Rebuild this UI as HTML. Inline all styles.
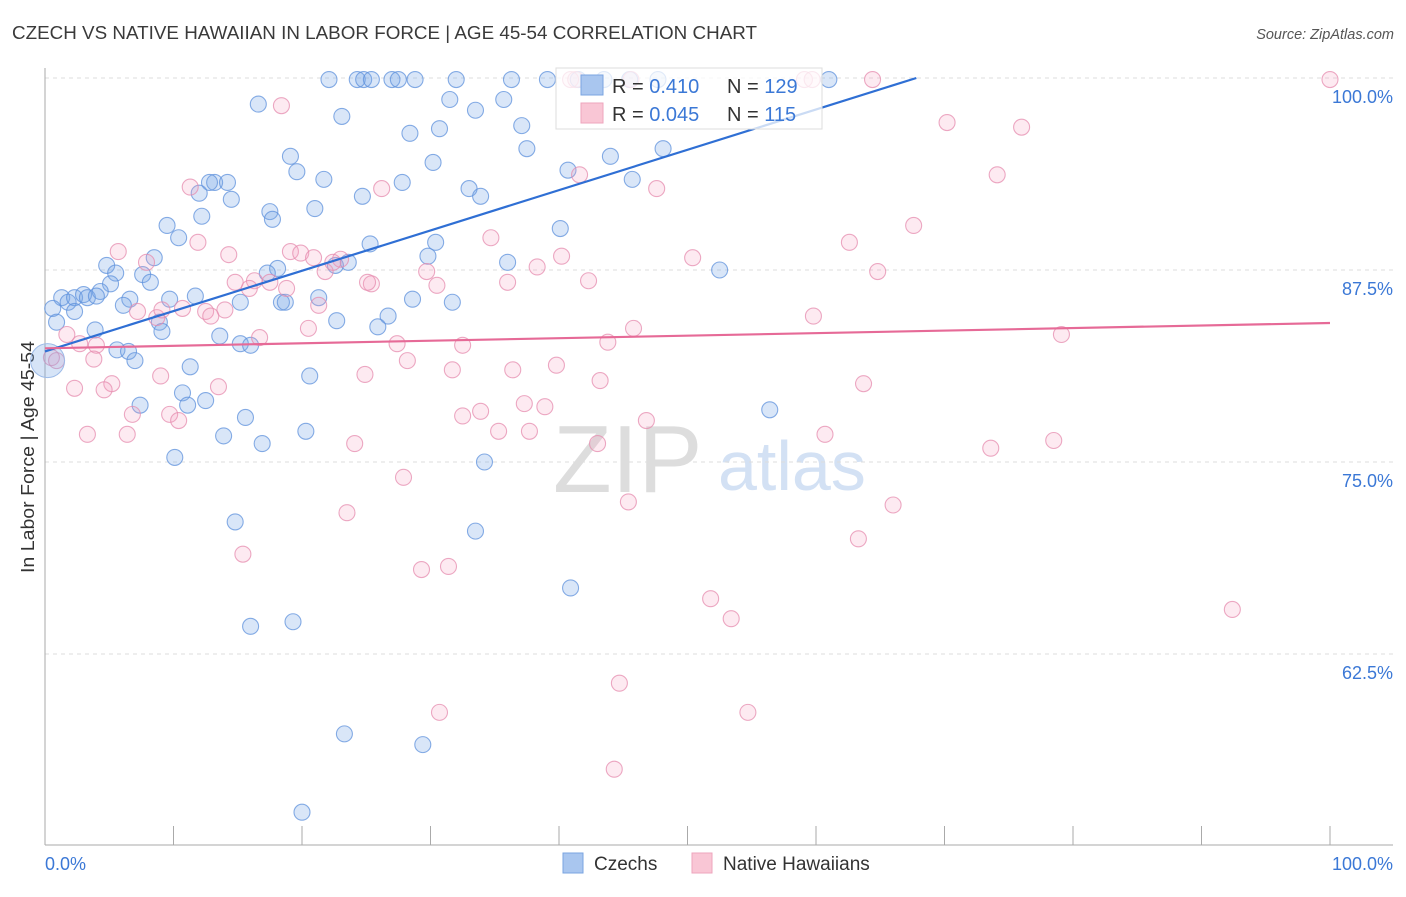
<!DOCTYPE html>
<html><head><meta charset="utf-8"><style>
body{margin:0;background:#fff;font-family:"Liberation Sans",sans-serif;}
svg text{font-family:"Liberation Sans",sans-serif;}
</style></head><body>
<svg id="chart" width="1406" height="892" xmlns="http://www.w3.org/2000/svg">
<text x="12" y="39" font-size="18" fill="#3a3a3a" textLength="745" lengthAdjust="spacingAndGlyphs">CZECH VS NATIVE HAWAIIAN IN LABOR FORCE | AGE 45-54 CORRELATION CHART</text>
<text x="1394" y="39" font-size="14.5" fill="#555" text-anchor="end" font-style="italic">Source: ZipAtlas.com</text>
<text transform="translate(34,457) rotate(-90)" font-size="18" fill="#333" text-anchor="middle" textLength="232" lengthAdjust="spacingAndGlyphs">In Labor Force | Age 45-54</text>
<g>
<text x="553" y="492" font-size="96" fill="#ddd" font-family="Liberation Serif,serif">ZIP</text>
<text x="718" y="490" font-size="70" fill="#d3e1f4">atlas</text>
</g>
<g id="grid"></g><g id="axes"></g><g id="pts"></g><g id="trends"></g>
<g>
<rect x="556" y="68" width="266" height="61" fill="rgba(255,255,255,0.75)" stroke="#ddd"/>
<rect x="581" y="75" width="22" height="20" fill="#a9c6ef" stroke="#7aa4e0"/>
<rect x="581" y="103" width="22" height="20" fill="#f9c6d5" stroke="#eea5bd"/>
<text x="612" y="93" font-size="20" fill="#333">R = <tspan fill="#3b78d6">0.410</tspan></text>
<text x="727" y="93" font-size="20" fill="#333">N = <tspan fill="#3b78d6">129</tspan></text>
<text x="612" y="121" font-size="20" fill="#333">R = <tspan fill="#3b78d6">0.045</tspan></text>
<text x="727" y="121" font-size="20" fill="#333">N = <tspan fill="#3b78d6"> 115</tspan></text>
</g>
<g>
<rect x="563" y="853" width="20" height="20" fill="#a9c6ef" stroke="#7aa4e0"/>
<text x="594" y="870" font-size="19" fill="#333">Czechs</text>
<rect x="692" y="853" width="20" height="20" fill="#f9c6d5" stroke="#eea5bd"/>
<text x="723" y="870" font-size="19" fill="#333">Native Hawaiians</text>
</g>
</svg>
<script>
const yTicks=[100,87.5,75,62.5];
const yTickLabels=["100.0%","87.5%","75.0%","62.5%"];
const xEndLabels=["0.0%","100.0%"];
const czX=[22.1,24.3,24.8,25.4,27.0,27.5,28.8,32.0,36.3,39.1,41.5,43.5,45.5,47.7,61.0,16.6,23.1,31.5,33.5,35.7,37.1,28.4,30.7,37.5,30.2,44.0,48.1,40.7,45.7,19.1,19.6,21.7,13.2,14.2,12.8,12.0,14.5,17.5,17.7,21.0,24.7,33.0,33.9,27.8,9.5,12.2,10.4,8.5,40.1,25.3,30.4,29.8,36.0,23.6,22.6,18.1,17.3,52.5,4.8,5.5,7.6,8.2,5.1,1.3,1.8,2.3,3.0,3.3,4.3,4.0,6.6,9.7,11.7,15.2,18.4,18.7,21.3,28.6,31.7,0.6,2.3,6.1,0.9,3.9,8.9,9.1,13.6,26.7,25.9,22.7,15.2,16.0,5.6,6.5,7.0,11.3,20.6,10.7,11.1,12.5,7.4,15.6,13.9,16.9,20.3,10.1,34.2,56.4,14.8,33.5,40.9,16.0,19.3,23.3,29.4,20.0];
const czY=[99.9,99.9,99.9,99.9,99.9,99.9,99.9,99.9,99.9,99.9,99.9,99.9,99.9,99.9,99.9,98.3,97.5,98.6,97.9,98.6,96.9,96.4,96.7,95.4,94.5,94.9,95.4,94.0,93.4,94.9,93.9,93.4,93.2,93.2,93.2,92.5,92.1,91.3,90.8,91.5,92.3,92.8,92.3,93.2,90.4,91.0,89.6,88.3,90.2,89.2,89.3,88.4,88.0,88.0,87.8,87.6,87.3,87.5,87.8,87.3,87.2,86.7,86.6,85.7,85.4,85.7,85.9,85.7,86.1,85.8,85.6,85.6,85.8,85.4,85.4,85.4,85.7,85.6,85.4,85.0,84.8,85.2,84.1,83.6,84.1,83.5,83.2,84.5,83.8,84.2,82.7,82.6,82.3,82.2,81.6,81.2,80.6,79.5,78.7,79.0,78.7,77.9,76.7,76.2,77.0,75.3,75.0,78.4,71.1,70.5,66.8,64.3,64.6,57.3,56.6,52.2];
const hwX=[40.9,41.3,45.6,59.1,59.7,64.4,100,18.4,70.2,76.0,74.1,41.6,47.6,26.2,11.3,67.6,62.6,64.8,50.4,40.2,38.3,34.7,29.7,5.7,7.9,11.9,14.3,19.1,19.9,20.9,21.8,23.0,22.4,16.3,14.8,17.5,15.9,18.8,25.4,25.1,30.5,36.0,42.3,21.3,10.7,12.5,12.9,14.0,8.7,9.1,7.2,1.7,2.7,4.0,0.5,0.9,3.8,59.8,45.8,20.5,27.4,32.5,43.8,79.1,28.2,24.9,31.7,36.4,39.8,43.2,63.7,2.3,5.2,4.6,9.0,13.5,16.7,6.8,9.7,10.4,32.5,33.9,37.3,38.9,46.8,3.3,6.4,24.1,35.3,37.7,43.0,60.7,78.5,73.6,27.9,45.4,66.0,23.5,15.4,63.3,31.4,29.3,51.8,53.4,92.4,44.7,54.7,30.7,44.3];
const hwY=[99.9,99.9,99.9,99.9,99.9,99.9,99.9,98.2,97.1,96.8,93.7,93.7,92.8,92.8,92.9,90.4,89.3,87.4,88.3,88.4,87.7,89.6,87.4,88.7,88.0,89.3,88.5,88.7,88.6,88.3,87.4,88.2,88.0,86.8,86.7,86.7,86.3,86.3,86.6,86.7,86.5,86.7,86.8,85.2,85.0,84.8,84.5,84.9,84.4,84.9,84.8,83.3,82.7,82.6,81.8,81.6,81.7,84.5,83.7,83.7,82.7,82.6,82.8,83.3,81.6,80.7,81.0,81.0,81.3,80.3,80.1,79.8,80.1,79.7,80.6,79.9,83.1,78.1,78.1,77.7,78.0,78.3,78.8,78.6,77.7,76.8,76.8,76.2,77.0,77.0,76.2,76.8,76.4,75.9,74.0,72.4,72.2,71.7,69.0,70.0,68.2,68.0,66.1,64.8,65.4,60.6,58.7,58.7,55.0];
const czTrend=[82.2,108.45];
const hwTrend=[82.4,84.05];
const NS='http://www.w3.org/2000/svg';
const X0=45,X1=1330,Y100=78,PX=192/12.5;
function sx(v){return X0+(X1-X0)*v/100;}
function sy(v){return Y100+(100-v)*PX;}
function mk(tag,attrs,parent){const e=document.createElementNS(NS,tag);for(const k in attrs)e.setAttribute(k,attrs[k]);parent.appendChild(e);return e;}
const grid=document.getElementById('grid'),axes=document.getElementById('axes'),pts=document.getElementById('pts'),tr=document.getElementById('trends');
yTicks.forEach((t,i)=>{
 const l=mk('line',{x1:X0,x2:1393,y1:sy(t),y2:sy(t),stroke:'#ddd','stroke-dasharray':'4,4'},grid);
 
 
 const tx=mk('text',{x:1393,y:sy(t)+25,'font-size':18,fill:'#3b78d6','text-anchor':'end'},grid);
 tx.textContent=yTickLabels[i];
 
 
});
const ax=mk('line',{x1:X0,x2:1393,y1:845,y2:845,stroke:'#aaa'},axes);


const ay=mk('line',{x1:X0,x2:X0,y1:68,y2:845,stroke:'#aaa'},axes);


for(let i=0;i<=10;i++){
 const t=mk('line',{x1:sx(i*10),x2:sx(i*10),y1:826,y2:845,stroke:'#aaa'},axes);
 
 
}
[[0,'start',45],[100,'end',1393]].forEach((d,i)=>{
 const t=mk('text',{x:d[2],y:870,'font-size':18,fill:'#3b78d6','text-anchor':d[1]},axes);
 t.textContent=xEndLabels[i];
 
 
});
function dots(xs,ys,fill,stroke,name){
 xs.forEach((x,i)=>{
  const c=mk('circle',{cx:sx(x),cy:sy(ys[i]),r:8,fill:fill,stroke:stroke,'stroke-width':1.1},pts);
  
  
 });
}
dots(czX,czY,'rgba(120,165,230,0.28)','rgba(95,145,220,0.75)','czech-point');
dots(hwX,hwY,'rgba(245,160,190,0.22)','rgba(230,140,175,0.75)','hawaiian-point');
const big=mk('circle',{cx:sx(0.2),cy:sy(81.6),r:17,fill:'rgba(120,165,230,0.3)',stroke:'#9dbbe8'},pts);


function trend(tv,color,name){
 let x2=100,y2=tv[1];
 if(y2>100){x2=(100-tv[0])/(tv[1]-tv[0])*100;y2=100;}
 const l=mk('line',{x1:sx(0),y1:sy(tv[0]),x2:sx(x2),y2:sy(y2),stroke:color,'stroke-width':2.2},tr);
 
 
}
trend(czTrend,'#2f6fd4','czech-trend-line');
trend(hwTrend,'#e66a97','hawaiian-trend-line');
</script>
</body></html>
